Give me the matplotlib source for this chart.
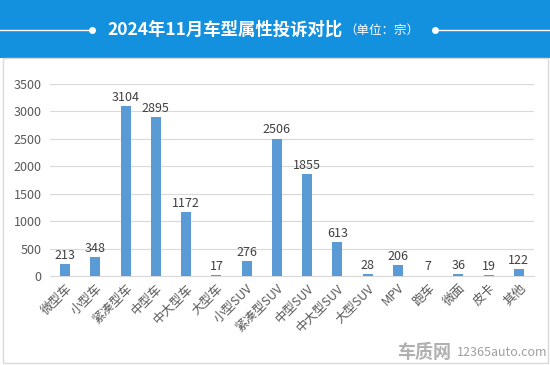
import matplotlib.pyplot as plt
from matplotlib.patches import Rectangle
from matplotlib.lines import Line2D

plt.rcParams['font.family'] = ['Noto Sans CJK SC', 'DejaVu Sans']

# 数据
categories = ['微型车', '小型车', '紧凑型车', '中型车', '中大型车', '大型车', '小型SUV',
              '紧凑型SUV', '中型SUV', '中大型SUV', '大型SUV', 'MPV', '跑车', '微面', '皮卡', '其他']
complaints = [213, 348, 3104, 2895, 1172, 17, 276, 2506, 1855, 613, 28, 206, 7, 36, 19, 122]
y_ticks = [0, 500, 1000, 1500, 2000, 2500, 3000, 3500]

fig = plt.figure(figsize=(5.5, 3.65), dpi=100)

# 顶部蓝色标题栏
fig.patches.append(Rectangle((0, 1 - 58 / 365), 1, 58 / 365, transform=fig.transFigure,
                             facecolor='#1390DE', edgecolor='none', zorder=-2))
# 白色面板边框
fig.patches.append(Rectangle((3 / 550, 2 / 365), 545 / 550, (365 - 60) / 365, transform=fig.transFigure,
                             facecolor='white', edgecolor='#D9D9D9', lw=1, zorder=-2))

# 标题两侧的线和圆点
yl = 1 - 30 / 365
fig.add_artist(Line2D([0, 92 / 550], [yl, yl], color='white', lw=1, transform=fig.transFigure))
fig.add_artist(Line2D([92 / 550], [yl], color='white', marker='o', ms=4, transform=fig.transFigure))
fig.add_artist(Line2D([435 / 550, 1], [yl, yl], color='white', lw=1, transform=fig.transFigure))
fig.add_artist(Line2D([435 / 550], [yl], color='white', marker='o', ms=4, transform=fig.transFigure))

fig.text(107 / 550, yl, '2024年11月车型属性投诉对比', color='white', fontsize=12.5,
         fontweight='bold', ha='left', va='center')
fig.text(344 / 550, yl - 0.002, '（单位：宗）', color='white', fontsize=9, ha='left', va='center')

# 柱状图
ax = fig.add_axes([50 / 550, 89 / 365, 484 / 550, 192 / 365])
ax.set_zorder(2)
x = range(len(categories))
bars = ax.bar(x, complaints, width=0.33, color='#5B9BD5', zorder=3)
for xi, v in zip(x, complaints):
    ax.text(xi, v + 40, str(v), ha='center', va='bottom', fontsize=9, color='#404040')

ax.set_xlim(-0.5, len(categories) - 0.5)
ax.set_ylim(0, 3500)
ax.set_yticks(y_ticks)
ax.set_xticks(list(x))
ax.set_xticklabels(categories, rotation=45, ha='right', rotation_mode='anchor')
ax.tick_params(axis='both', length=0, labelsize=9, labelcolor='#595959')
ax.tick_params(axis='x', pad=4)
ax.tick_params(axis='y', pad=6)
ax.grid(axis='y', color='#D9D9D9', lw=0.8, zorder=0)
for s in ['top', 'right', 'left']:
    ax.spines[s].set_visible(False)
ax.spines['bottom'].set_color('#D9D9D9')
ax.set_facecolor('none')

# 水印
fig.text(397 / 550, 12 / 365, '车质网', color='#B0B0B0', fontsize=13, fontweight='bold',
         ha='left', va='center')
fig.text(457 / 550, 12 / 365, '12365auto.com', color='#A0A0A0', fontsize=9, ha='left', va='center')

fig.savefig('out.png', dpi=100)
